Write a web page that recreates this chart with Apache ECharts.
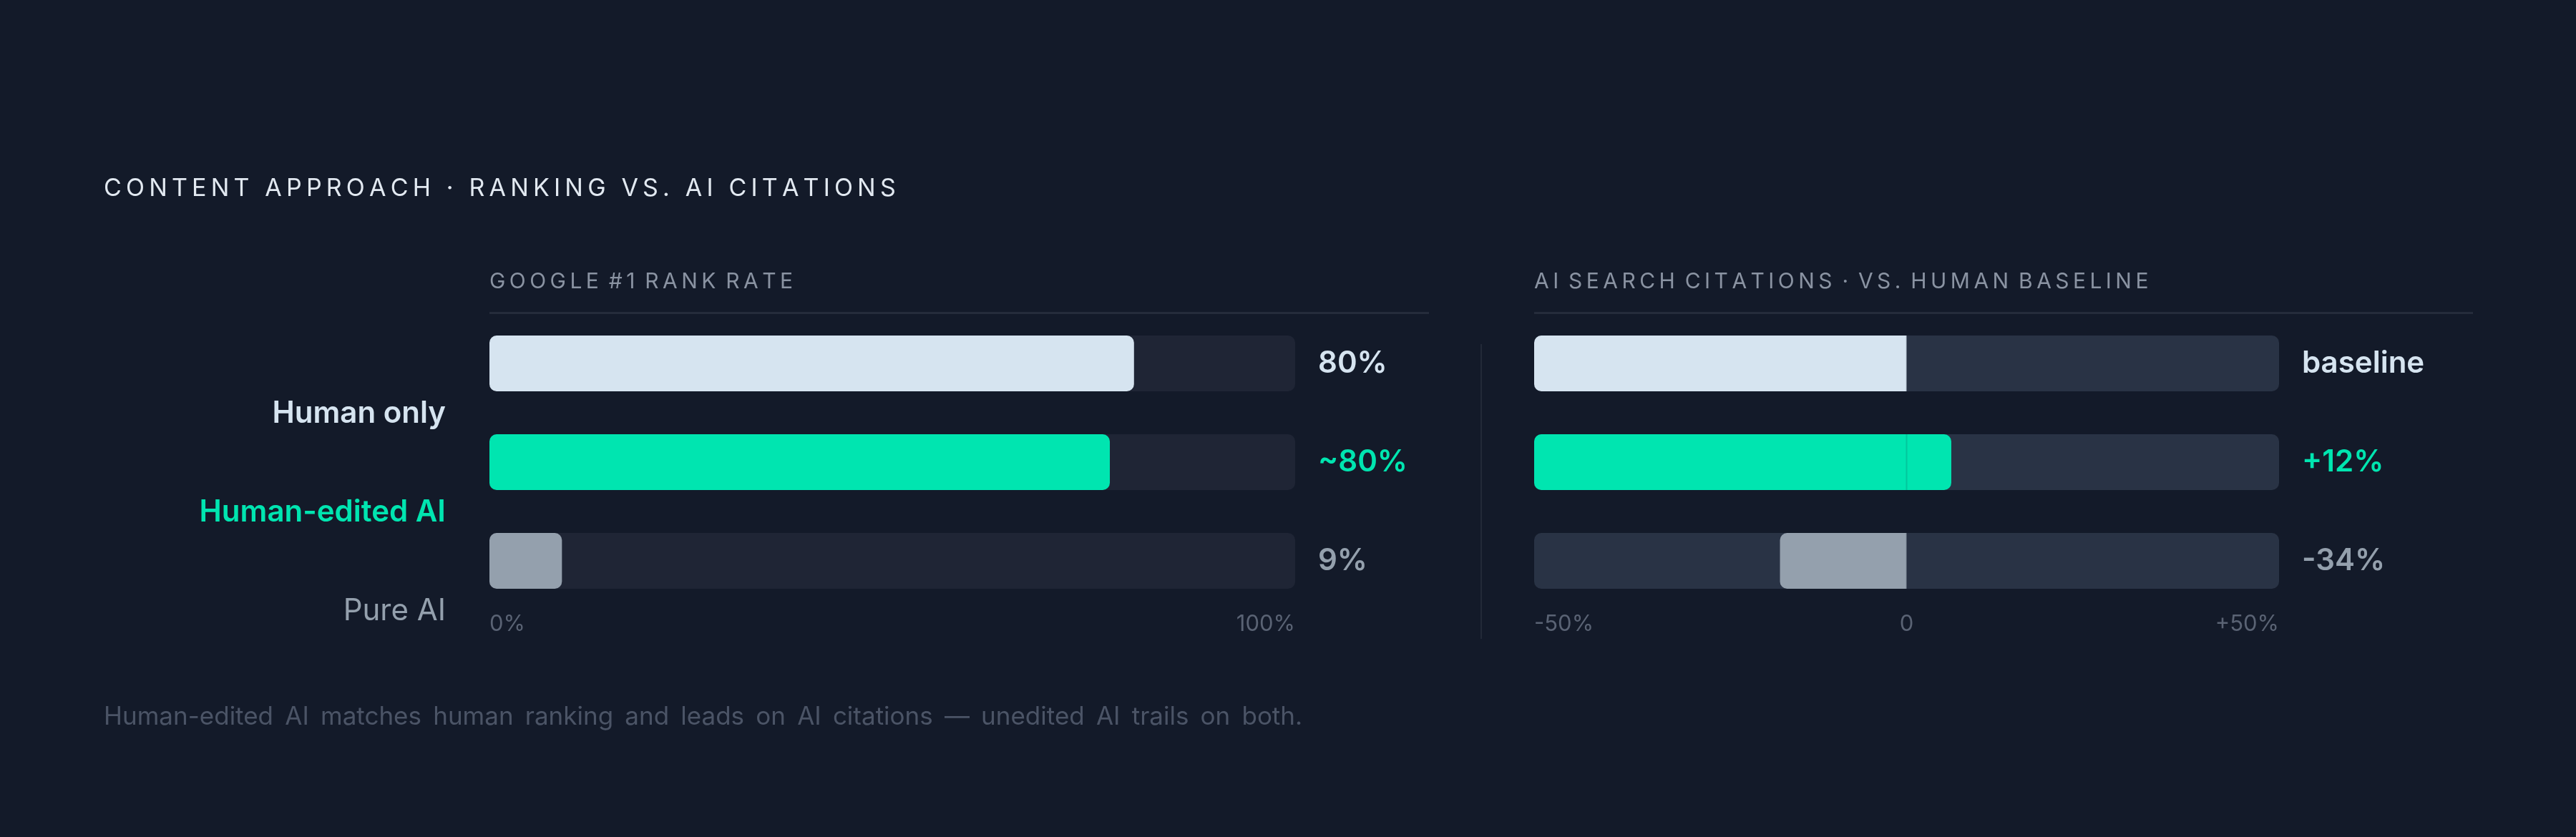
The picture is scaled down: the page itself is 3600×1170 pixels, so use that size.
<!DOCTYPE html>
<html><head><meta charset="utf-8">
<script src="https://cdn.jsdelivr.net/npm/echarts@6/dist/echarts.min.js"></script>
<style>html,body{margin:0;padding:0;background:#131a29;}#c{width:3600px;height:1170px;}</style>
</head><body><div id="c"></div>
<script>
// ---------- data ----------
const categories = ['Human only', 'Human-edited AI', 'Pure AI'];
const rankRate = [80, 77, 9];                 // Google #1 rank rate, %
const rankLabels = ['80%', '~80%', '9%'];
const citationIndex = [100, 112, 66];         // AI citations, human baseline = 100
const citationLabels = ['baseline', '+12%', '-34%'];
const rankTicks = ['0%', '100%'];
const citationTicks = ['-50%', '0', '+50%'];
const titleText = 'CONTENT APPROACH · RANKING VS. AI CITATIONS';
const panelTitles = ['GOOGLE #1 RANK RATE', 'AI SEARCH CITATIONS · VS. HUMAN BASELINE'];
const footnote = 'Human-edited AI matches human ranking and leads on AI citations — unedited AI trails on both.';

// ---------- style ----------
const palette = ['#d6e4f0', '#00e5b0', '#94a0ad'];
const FONT = 'Inter, "Noto Sans", sans-serif';
const BG = '#131a29';
const BASE = 100;

const HAIR = '\u200A';
// letter-spacing emulation: sp between letters, spNearSpace next to word spaces
function spaced(s, sp, spNearSpace) {
  const ch = s.split('');
  let out = ch[0];
  for (let i = 1; i < ch.length; i++) {
    const near = ch[i] === ' ' || ch[i - 1] === ' ';
    out += (near && spNearSpace !== undefined ? spNearSpace : sp) + ch[i];
  }
  return out;
}

const chart = echarts.init(document.getElementById('c'), null, { renderer: 'canvas' });

const gridTop = 439, gridH = 414, barW = 78, rad = 10;

const rankTrack = categories.map((c, i) => ({
  value: 100,
  label: { color: palette[i] }
}));
const rankFill = rankRate.map((v, i) => ({ value: v, itemStyle: { color: palette[i] } }));

const citTrack = categories.map((c, i) => ({
  value: 2 * BASE,
  label: { color: palette[i] }
}));
const citOffset = citationIndex.map(v => (v < BASE ? v : 0));
const citFill = citationIndex.map((v, i) => {
  const end = v < BASE ? BASE : v;
  return {
    value: v < BASE ? BASE - v : v,
    itemStyle: { color: palette[i], borderRadius: end === BASE ? [rad, 0, 0, rad] : rad }
  };
});

const option = {
  backgroundColor: BG,
  animation: false,
  textStyle: { fontFamily: FONT },
  grid: [
    { left: 684, width: 1126, top: gridTop, height: gridH },
    { left: 2144, width: 1041, top: gridTop, height: gridH },
    { left: 684, width: 1126, top: gridTop + 70, height: gridH }
  ],
  xAxis: [
    {
      gridIndex: 0, type: 'value', min: 0, max: 100, interval: 100,
      axisLine: { show: false }, axisTick: { show: false }, splitLine: { show: false },
      axisLabel: {
        formatter: v => rankTicks[v / 100], color: '#5a6374', fontSize: 31, fontFamily: FONT,
        margin: 4, alignMinLabel: 'left', alignMaxLabel: 'right', showMinLabel: true, showMaxLabel: true
      }
    },
    {
      gridIndex: 1, type: 'value', min: 0, max: 2 * BASE, interval: BASE,
      axisLine: { show: false }, axisTick: { show: false }, splitLine: { show: false },
      axisLabel: {
        formatter: v => citationTicks[v / BASE], color: '#5a6374', fontSize: 31, fontFamily: FONT,
        margin: 4, alignMinLabel: 'left', alignMaxLabel: 'right', showMinLabel: true, showMaxLabel: true
      }
    },
    { gridIndex: 2, type: 'value', show: false }
  ],
  yAxis: [
    { gridIndex: 0, type: 'category', data: categories, inverse: true, show: false },
    { gridIndex: 1, type: 'category', data: categories, inverse: true, show: false },
    {
      gridIndex: 2, type: 'category', inverse: true,
      data: categories.map((c, i) => ({
        value: c,
        textStyle: { color: palette[i], fontWeight: i === 2 ? 400 : 600 }
      })),
      axisLine: { show: false }, axisTick: { show: false }, splitLine: { show: false },
      axisLabel: { fontSize: 42, fontFamily: FONT, margin: 61 }
    }
  ],
  series: [
    {
      type: 'bar', xAxisIndex: 0, yAxisIndex: 0, data: rankTrack, barWidth: barW, barGap: '-100%',
      itemStyle: { color: '#1f2535', borderRadius: rad }, silent: true,
      label: {
        show: true, position: 'right', distance: 32, fontSize: 42, fontWeight: 600, fontFamily: FONT,
        formatter: p => rankLabels[p.dataIndex]
      }
    },
    {
      type: 'bar', xAxisIndex: 0, yAxisIndex: 0, data: rankFill, barWidth: barW, barGap: '-100%',
      itemStyle: { borderRadius: rad }
    },
    {
      type: 'bar', xAxisIndex: 1, yAxisIndex: 1, data: citTrack, barWidth: barW, barGap: '-100%',
      itemStyle: { color: '#293345', borderRadius: rad }, silent: true,
      label: {
        show: true, position: 'right', distance: 32, fontSize: 42, fontWeight: 600, fontFamily: FONT,
        formatter: p => citationLabels[p.dataIndex]
      }
    },
    {
      type: 'bar', xAxisIndex: 1, yAxisIndex: 1, stack: 'cit', data: citOffset, barWidth: barW, barGap: '-100%',
      itemStyle: { color: 'rgba(0,0,0,0)' }, silent: true
    },
    {
      type: 'bar', xAxisIndex: 1, yAxisIndex: 1, stack: 'cit', data: citFill, barWidth: barW, barGap: '-100%'
    },
    {
      type: 'scatter', xAxisIndex: 1, yAxisIndex: 1, symbol: 'rect', symbolSize: [2, barW], z: 5, silent: true,
      itemStyle: { color: 'rgba(19,26,41,0.18)' },
      data: categories.map(c => [BASE, c])
    }
  ],
  graphic: [
    {
      type: 'text', x: 145, y: 264,
      style: { text: spaced(titleText, HAIR + HAIR), fill: '#e2e9f1', font: '400 34px ' + FONT, verticalAlign: 'middle' }
    },
    {
      type: 'text', x: 684, y: 394,
      style: { text: spaced(panelTitles[0], HAIR + HAIR, HAIR), fill: '#8a93a2', font: '400 30px ' + FONT, verticalAlign: 'middle' }
    },
    {
      type: 'text', x: 2144, y: 394,
      style: { text: spaced(panelTitles[1], HAIR + HAIR, HAIR), fill: '#8a93a2', font: '400 30px ' + FONT, verticalAlign: 'middle' }
    },
    { type: 'rect', shape: { x: 684, y: 436, width: 1313, height: 3 }, style: { fill: '#252c3b' } },
    { type: 'rect', shape: { x: 2144, y: 436, width: 1312, height: 3 }, style: { fill: '#252c3b' } },
    { type: 'rect', shape: { x: 2069, y: 481, width: 2, height: 412 }, style: { fill: '#232a38' } },
    {
      type: 'text', x: 145, y: 1002,
      style: { text: spaced(footnote, '', HAIR), fill: '#4b5466', font: '400 35px ' + FONT, verticalAlign: 'middle' }
    }
  ]
};
chart.setOption(option);
</script>
</body></html>
